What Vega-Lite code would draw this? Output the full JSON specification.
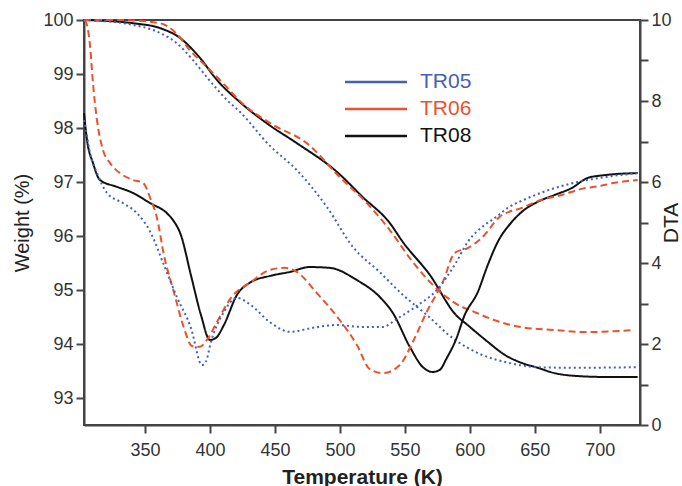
{
  "$schema": "https://vega.github.io/schema/vega-lite/v6.json",
  "width": 556,
  "height": 405,
  "autosize": "none",
  "padding": {"left": 84, "top": 20, "right": 42, "bottom": 61},
  "config": {
    "font": "Liberation Sans",
    "view": {"stroke": "#444", "strokeWidth": 2},
    "axis": {"grid": false, "domainColor": "#444", "domainWidth": 2, "tickColor": "#444", "tickWidth": 2, "tickSize": 8, "labelColor": "#333", "titleColor": "#222", "labelFontSize": 18, "labelFont": "Liberation Sans", "titleFont": "Liberation Sans"}
  },
  "datasets": {
    "tg": [
      {"T": 303, "v": 100, "s": "TR08"}, {"T": 340.7, "v": 99.94, "s": "TR08"}, {"T": 361.5, "v": 99.85, "s": "TR08"}, {"T": 376.8, "v": 99.67, "s": "TR08"}, {"T": 392.2, "v": 99.3, "s": "TR08"}, {"T": 405.3, "v": 98.89, "s": "TR08"}, {"T": 423, "v": 98.48, "s": "TR08"}, {"T": 445.3, "v": 98.06, "s": "TR08"}, {"T": 466.8, "v": 97.72, "s": "TR08"}, {"T": 497.6, "v": 97.19, "s": "TR08"}, {"T": 517.6, "v": 96.72, "s": "TR08"}, {"T": 538.4, "v": 96.24, "s": "TR08"}, {"T": 548.4, "v": 95.89, "s": "TR08"}, {"T": 569.2, "v": 95.28, "s": "TR08"}, {"T": 589.2, "v": 94.54, "s": "TR08"}, {"T": 598.4, "v": 94.35, "s": "TR08"}, {"T": 613.8, "v": 94.04, "s": "TR08"}, {"T": 626.8, "v": 93.8, "s": "TR08"}, {"T": 639.9, "v": 93.65, "s": "TR08"}, {"T": 652.2, "v": 93.56, "s": "TR08"}, {"T": 665.3, "v": 93.46, "s": "TR08"}, {"T": 680.7, "v": 93.41, "s": "TR08"}, {"T": 703.8, "v": 93.39, "s": "TR08"}, {"T": 729.2, "v": 93.39, "s": "TR08"},
      {"T": 303, "v": 100, "s": "TR06"}, {"T": 330.7, "v": 100, "s": "TR06"}, {"T": 361.5, "v": 99.94, "s": "TR06"}, {"T": 374.5, "v": 99.74, "s": "TR06"}, {"T": 384.5, "v": 99.44, "s": "TR06"}, {"T": 397.6, "v": 99.13, "s": "TR06"}, {"T": 407.6, "v": 98.89, "s": "TR06"}, {"T": 426.1, "v": 98.43, "s": "TR06"}, {"T": 448.4, "v": 98.06, "s": "TR06"}, {"T": 474.5, "v": 97.72, "s": "TR06"}, {"T": 499.9, "v": 97.09, "s": "TR06"}, {"T": 520.7, "v": 96.61, "s": "TR06"}, {"T": 538.4, "v": 96.11, "s": "TR06"}, {"T": 553.8, "v": 95.59, "s": "TR06"}, {"T": 569.2, "v": 95.15, "s": "TR06"}, {"T": 588.4, "v": 94.76, "s": "TR06"}, {"T": 603.8, "v": 94.59, "s": "TR06"}, {"T": 619.2, "v": 94.44, "s": "TR06"}, {"T": 639.9, "v": 94.31, "s": "TR06"}, {"T": 665.3, "v": 94.26, "s": "TR06"}, {"T": 690.7, "v": 94.22, "s": "TR06"}, {"T": 726.8, "v": 94.26, "s": "TR06"},
      {"T": 303, "v": 100, "s": "TR05"}, {"T": 340.7, "v": 99.91, "s": "TR05"}, {"T": 361.5, "v": 99.76, "s": "TR05"}, {"T": 374.5, "v": 99.57, "s": "TR05"}, {"T": 386.8, "v": 99.26, "s": "TR05"}, {"T": 397.6, "v": 98.94, "s": "TR05"}, {"T": 413, "v": 98.52, "s": "TR05"}, {"T": 423, "v": 98.3, "s": "TR05"}, {"T": 445.3, "v": 97.69, "s": "TR05"}, {"T": 466.8, "v": 97.22, "s": "TR05"}, {"T": 489.9, "v": 96.54, "s": "TR05"}, {"T": 509.9, "v": 95.8, "s": "TR05"}, {"T": 530.7, "v": 95.33, "s": "TR05"}, {"T": 548.4, "v": 94.91, "s": "TR05"}, {"T": 566.8, "v": 94.54, "s": "TR05"}, {"T": 586.8, "v": 94.11, "s": "TR05"}, {"T": 609.2, "v": 93.8, "s": "TR05"}, {"T": 626.8, "v": 93.67, "s": "TR05"}, {"T": 652.2, "v": 93.57, "s": "TR05"}, {"T": 678.4, "v": 93.56, "s": "TR05"}, {"T": 729.2, "v": 93.57, "s": "TR05"}
    ],
    "dta": [
      {"T": 303, "v": 7.7, "s": "TR08"}, {"T": 305.3, "v": 7.04, "s": "TR08"}, {"T": 309.9, "v": 6.47, "s": "TR08"}, {"T": 315.3, "v": 6.05, "s": "TR08"}, {"T": 328.4, "v": 5.88, "s": "TR08"}, {"T": 340.7, "v": 5.73, "s": "TR08"}, {"T": 353.8, "v": 5.48, "s": "TR08"}, {"T": 366.8, "v": 5.23, "s": "TR08"}, {"T": 371.5, "v": 5.06, "s": "TR08"}, {"T": 377.6, "v": 4.69, "s": "TR08"}, {"T": 385.3, "v": 3.7, "s": "TR08"}, {"T": 393, "v": 2.72, "s": "TR08"}, {"T": 399.9, "v": 2.1, "s": "TR08"}, {"T": 404.5, "v": 2.15, "s": "TR08"}, {"T": 410.7, "v": 2.47, "s": "TR08"}, {"T": 420.7, "v": 3.21, "s": "TR08"}, {"T": 431.5, "v": 3.53, "s": "TR08"}, {"T": 446.1, "v": 3.68, "s": "TR08"}, {"T": 461.5, "v": 3.78, "s": "TR08"}, {"T": 476.8, "v": 3.9, "s": "TR08"}, {"T": 492.2, "v": 3.88, "s": "TR08"}, {"T": 513, "v": 3.58, "s": "TR08"}, {"T": 530.7, "v": 3.16, "s": "TR08"}, {"T": 540.7, "v": 2.77, "s": "TR08"}, {"T": 553.8, "v": 1.93, "s": "TR08"}, {"T": 563.8, "v": 1.43, "s": "TR08"}, {"T": 571.5, "v": 1.31, "s": "TR08"}, {"T": 576.8, "v": 1.36, "s": "TR08"}, {"T": 582.2, "v": 1.65, "s": "TR08"}, {"T": 589.2, "v": 2.1, "s": "TR08"}, {"T": 596.1, "v": 2.72, "s": "TR08"}, {"T": 606.1, "v": 3.28, "s": "TR08"}, {"T": 613.8, "v": 3.95, "s": "TR08"}, {"T": 621.5, "v": 4.52, "s": "TR08"}, {"T": 632.2, "v": 5.01, "s": "TR08"}, {"T": 639.9, "v": 5.26, "s": "TR08"}, {"T": 652.2, "v": 5.51, "s": "TR08"}, {"T": 665.3, "v": 5.68, "s": "TR08"}, {"T": 678.4, "v": 5.85, "s": "TR08"}, {"T": 690.7, "v": 6.1, "s": "TR08"}, {"T": 703.8, "v": 6.17, "s": "TR08"}, {"T": 729.2, "v": 6.22, "s": "TR08"},
      {"T": 303.5, "v": 10, "s": "TR06"}, {"T": 305.3, "v": 9.88, "s": "TR06"}, {"T": 307.6, "v": 9.38, "s": "TR06"}, {"T": 309.9, "v": 8.44, "s": "TR06"}, {"T": 313, "v": 7.53, "s": "TR06"}, {"T": 317.6, "v": 6.79, "s": "TR06"}, {"T": 323, "v": 6.47, "s": "TR06"}, {"T": 330.7, "v": 6.22, "s": "TR06"}, {"T": 340.7, "v": 6.05, "s": "TR06"}, {"T": 348.4, "v": 5.98, "s": "TR06"}, {"T": 354.5, "v": 5.56, "s": "TR06"}, {"T": 359.2, "v": 5.11, "s": "TR06"}, {"T": 364.5, "v": 4.2, "s": "TR06"}, {"T": 372.2, "v": 3.28, "s": "TR06"}, {"T": 379.9, "v": 2.4, "s": "TR06"}, {"T": 386.1, "v": 1.95, "s": "TR06"}, {"T": 392.2, "v": 1.93, "s": "TR06"}, {"T": 397.6, "v": 2.1, "s": "TR06"}, {"T": 405.3, "v": 2.54, "s": "TR06"}, {"T": 416.1, "v": 3.14, "s": "TR06"}, {"T": 431.5, "v": 3.53, "s": "TR06"}, {"T": 446.1, "v": 3.83, "s": "TR06"}, {"T": 457.6, "v": 3.88, "s": "TR06"}, {"T": 466.8, "v": 3.78, "s": "TR06"}, {"T": 482.2, "v": 3.26, "s": "TR06"}, {"T": 499.9, "v": 2.59, "s": "TR06"}, {"T": 513, "v": 1.98, "s": "TR06"}, {"T": 523, "v": 1.38, "s": "TR06"}, {"T": 533, "v": 1.28, "s": "TR06"}, {"T": 546.1, "v": 1.48, "s": "TR06"}, {"T": 556.1, "v": 2.05, "s": "TR06"}, {"T": 566.8, "v": 2.79, "s": "TR06"}, {"T": 579.2, "v": 3.53, "s": "TR06"}, {"T": 588.4, "v": 4.25, "s": "TR06"}, {"T": 598.4, "v": 4.37, "s": "TR06"}, {"T": 609.2, "v": 4.62, "s": "TR06"}, {"T": 623, "v": 5.14, "s": "TR06"}, {"T": 639.9, "v": 5.36, "s": "TR06"}, {"T": 655.3, "v": 5.56, "s": "TR06"}, {"T": 670.7, "v": 5.68, "s": "TR06"}, {"T": 686.1, "v": 5.83, "s": "TR06"}, {"T": 699.9, "v": 5.9, "s": "TR06"}, {"T": 711.5, "v": 5.98, "s": "TR06"}, {"T": 729.2, "v": 6.05, "s": "TR06"},
      {"T": 303, "v": 7.53, "s": "TR05"}, {"T": 304.5, "v": 7.28, "s": "TR05"}, {"T": 307.6, "v": 6.72, "s": "TR05"}, {"T": 313, "v": 6.22, "s": "TR05"}, {"T": 320.7, "v": 5.73, "s": "TR05"}, {"T": 333, "v": 5.48, "s": "TR05"}, {"T": 343.8, "v": 5.23, "s": "TR05"}, {"T": 354.5, "v": 4.74, "s": "TR05"}, {"T": 364.5, "v": 3.95, "s": "TR05"}, {"T": 374.5, "v": 3.16, "s": "TR05"}, {"T": 385.3, "v": 2.4, "s": "TR05"}, {"T": 393.8, "v": 1.48, "s": "TR05"}, {"T": 396.8, "v": 1.56, "s": "TR05"}, {"T": 400.7, "v": 2.05, "s": "TR05"}, {"T": 410.7, "v": 2.79, "s": "TR05"}, {"T": 420.7, "v": 3.14, "s": "TR05"}, {"T": 431.5, "v": 2.96, "s": "TR05"}, {"T": 446.1, "v": 2.54, "s": "TR05"}, {"T": 461.5, "v": 2.3, "s": "TR05"}, {"T": 479.2, "v": 2.4, "s": "TR05"}, {"T": 497.6, "v": 2.47, "s": "TR05"}, {"T": 517.6, "v": 2.42, "s": "TR05"}, {"T": 533, "v": 2.42, "s": "TR05"}, {"T": 543.8, "v": 2.62, "s": "TR05"}, {"T": 559.2, "v": 2.94, "s": "TR05"}, {"T": 574.5, "v": 3.33, "s": "TR05"}, {"T": 589.2, "v": 4, "s": "TR05"}, {"T": 598.4, "v": 4.52, "s": "TR05"}, {"T": 611.5, "v": 4.94, "s": "TR05"}, {"T": 619.2, "v": 5.11, "s": "TR05"}, {"T": 629.2, "v": 5.36, "s": "TR05"}, {"T": 644.5, "v": 5.6, "s": "TR05"}, {"T": 665.3, "v": 5.85, "s": "TR05"}, {"T": 683, "v": 6, "s": "TR05"}, {"T": 703.8, "v": 6.12, "s": "TR05"}, {"T": 729.2, "v": 6.22, "s": "TR05"}
    ]
  },
  "encoding": {
    "x": {"field": "T", "type": "quantitative", "scale": {"domain": [303, 731], "nice": false, "zero": false},
      "axis": {"values": [350, 400, 450, 500, 550, 600, 650, 700], "title": "Temperature (K)", "titleFontSize": 21, "titleFontWeight": "bold", "titlePadding": 7, "labelPadding": 8}},
    "color": {"field": "s", "type": "nominal", "scale": {"domain": ["TR05", "TR06", "TR08"], "range": ["#4660b8", "#e8532f", "#111111"]},
      "legend": {"title": null, "orient": "none", "legendX": 280, "legendY": 50, "symbolType": "M-3,0H3", "symbolSize": 428, "symbolStrokeWidth": 2.5, "labelFontSize": 21, "labelOffset": 32, "rowPadding": 5,
        "encode": {"labels": {"update": {"fill": {"scale": "color", "field": "value"}}}}}},
    "strokeDash": {"condition": [{"test": "datum.s === 'TR05'", "value": [2, 3]}, {"test": "datum.s === 'TR06'", "value": [7, 4]}], "value": [1, 0]}
  },
  "layer": [
    {
      "data": {"name": "tg"},
      "mark": {"type": "line", "interpolate": "monotone", "strokeWidth": 2},
      "encoding": {
        "y": {"field": "v", "type": "quantitative", "scale": {"domain": [92.5, 100], "nice": false, "zero": false},
          "axis": {"orient": "left", "values": [93, 94, 95, 96, 97, 98, 99, 100], "title": "Weight (%)", "titleFontSize": 20, "titleFontWeight": "normal", "labelPadding": 3, "titlePadding": 10}}
      }
    },
    {
      "data": {"name": "dta"},
      "mark": {"type": "line", "interpolate": "monotone", "strokeWidth": 2},
      "encoding": {
        "y": {"field": "v", "type": "quantitative", "scale": {"domain": [0, 10], "nice": false},
          "axis": {"orient": "right", "values": [0, 1, 2, 3, 4, 5, 6, 7, 8, 9, 10], "labelExpr": "datum.value % 2 ? '' : datum.label", "title": "DTA", "titleAngle": -90, "titleFontSize": 21, "titleFontWeight": "normal", "labelPadding": 3, "titlePadding": 10}}
      }
    }
  ],
  "resolve": {"scale": {"y": "independent"}}
}
